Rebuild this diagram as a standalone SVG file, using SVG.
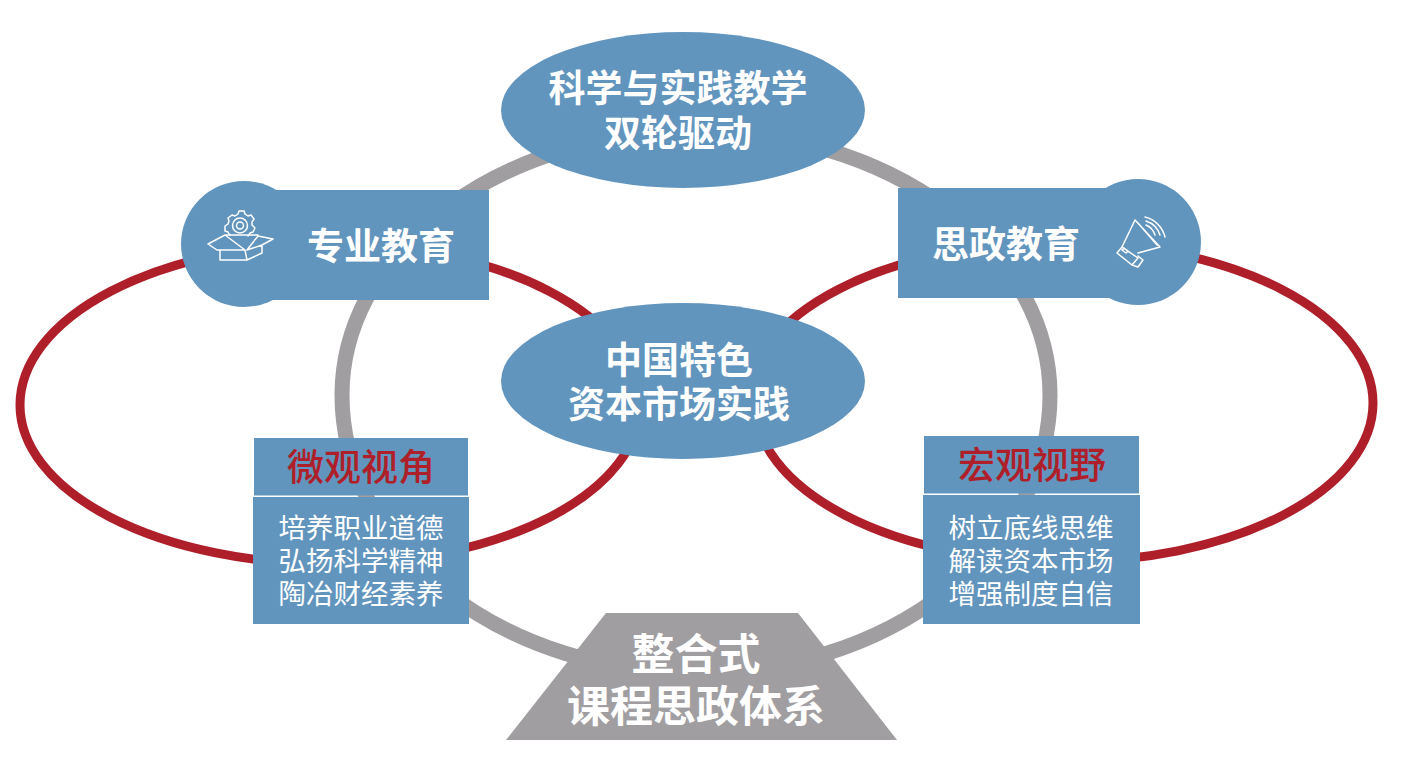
<svg xmlns="http://www.w3.org/2000/svg" width="1406" height="765" viewBox="0 0 1406 765">
<style>
.b{fill:#6295be}
.ring{fill:none}
.gray{stroke:#a09ea1;stroke-width:15}
.red{stroke:#ae1f2a;stroke-width:9}
text{font-family:"Noto Sans CJK SC","Liberation Sans",sans-serif;text-anchor:middle}
.t{fill:#fff;font-weight:700;font-size:37px}
.h{fill:#ae1f2a;font-weight:500;font-size:37px}
.s{fill:#fff;font-weight:400;font-size:27.500px}
.l{font-size:43px}
.ic{fill:none;stroke:#fff;stroke-width:1.500;stroke-linejoin:round;stroke-linecap:round}
</style>
<rect width="1406" height="765" fill="#fff"/>
<g id="connectors">
<path class="ring gray" d="M342 395A354 264 0 0 1 1050 395A354 278 0 0 1 342 395Z"/>
<path class="ring red" d="M20 405A310 161 0 0 1 640 405A310 159 0 0 1 20 405Z"/>
<path class="ring red" d="M747 403A313 161 0 0 1 1373 403A309 159 0 0 1 755 403"/>
</g>
<g id="node-top"><ellipse class="b" cx="683" cy="110" rx="182" ry="78"/>
<text class="t" x="678" y="102">科学与实践教学</text>
<text class="t" x="678" y="147">双轮驱动</text></g>
<g id="node-mid"><ellipse class="b" cx="683" cy="381" rx="182" ry="78"/>
<text class="t" x="679" y="374">中国特色</text>
<text class="t" x="679" y="418">资本市场实践</text></g>
<g id="node-zhuanye"><circle class="b" cx="244" cy="244" r="63"/><rect class="b" x="244" y="190" width="245" height="110"/>
<g class="ic">
<circle cx="240" cy="225.500" r="3.500"/><circle cx="240" cy="225.500" r="7.500"/>
<path d="M230 235a13 13 0 0 1-2-3l-3-1v-5l3-2 1-3-1-3 4-3 3 1 3-2 1-3h5l1 3 3 2 3-1 3 4-2 3v3l3 3-2 4-3 1-2 3"/>
<path d="M225 235H258M225 235l-17 9 9 6h28l-20-15M258 236l15 3-11 6-15 5 11-14M245 250l2 10H220V250M247 260l15-7V245M217 250l-9-6"/>
</g>
<text class="t" x="381" y="260">专业教育</text></g>
<g id="node-sizheng"><circle class="b" cx="1138" cy="242" r="63"/><rect class="b" x="898" y="188" width="240" height="110"/>
<text class="t" x="1006" y="258">思政教育</text>
<g class="ic">
<path d="M1135 220 1160 247 1138 253M1135 220 1122 247M1138 223 1157 245"/>
<path d="M1122 247 1117 253 1132 265 1138 258ZM1122 250l4 3 2-2-4-3zM1132 265 1138 267 1143 260 1138 256"/>
<path d="M1146 225a16 16 0 0 1 9 10M1146 221a22 22 0 0 1 14 14M1145 217a27 27 0 0 1 20 20"/>
</g></g>
<g id="node-weiguan"><rect class="b" x="254" y="438" width="214" height="57.500"/>
<text class="h" x="361" y="481">微观视角</text></g>
<g id="node-weiguan-list"><rect class="b" x="253" y="497" width="216" height="127"/>
<text class="s" x="361" y="538">培养职业道德</text>
<text class="s" x="361" y="571">弘扬科学精神</text>
<text class="s" x="361" y="604">陶冶财经素养</text></g>
<g id="node-hongguan"><rect class="b" x="924" y="436" width="215" height="57.500"/>
<text class="h" x="1032" y="479">宏观视野</text></g>
<g id="node-hongguan-list"><rect class="b" x="923" y="495" width="217" height="129"/>
<text class="s" x="1031" y="538">树立底线思维</text>
<text class="s" x="1031" y="571">解读资本市场</text>
<text class="s" x="1031" y="604">增强制度自信</text></g>
<g id="node-bottom"><polygon points="606,613 798,613 897,740 506,740" fill="#a09ea1"/>
<text class="t l" x="696" y="670">整合式</text>
<text class="t l" x="696" y="722">课程思政体系</text></g>
</svg>
